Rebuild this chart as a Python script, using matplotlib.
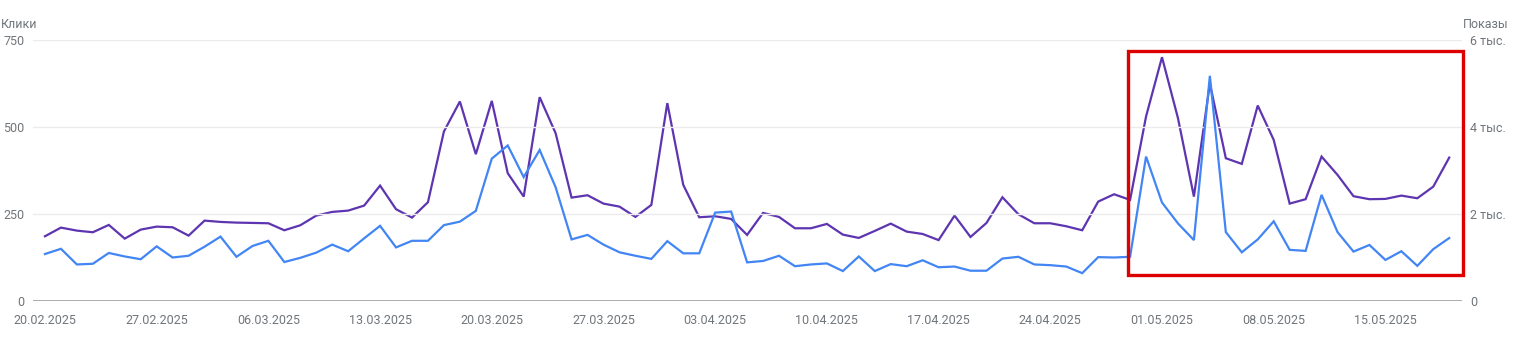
import matplotlib
matplotlib.use("Agg")
import matplotlib.pyplot as plt
import matplotlib.patches as mpatches
import pandas as pd

# ---- data ----
start_date = "2025-02-20"
clicks = [135, 150, 105, 107, 138, 128, 120, 157, 125, 130,
          156, 185, 127, 158, 173, 112, 124, 139, 162, 143,
          180, 216, 154, 173, 173, 218, 228, 259, 409, 447,
          356, 434, 327, 177, 190, 162, 140, 130, 121, 172,
          137, 137, 254, 257, 111, 115, 130, 100, 105, 108,
          86, 128, 86, 106, 100, 117, 97, 99, 87, 87,
          122, 127, 105, 103, 99, 80, 126, 125, 127, 415,
          283, 223, 175, 647, 198, 140, 177, 229, 147, 144,
          305, 198, 142, 161, 118, 143, 101, 149, 181]
impressions = [1488, 1687, 1618, 1580, 1749, 1434, 1641, 1710, 1695, 1503,
               1848, 1818, 1802, 1795, 1787, 1626, 1741, 1963, 2048, 2078,
               2193, 2653, 2110, 1917, 2271, 3896, 4586, 3375, 4600, 2938,
               2400, 4686, 3858, 2377, 2431, 2239, 2170, 1933, 2209, 4549,
               2669, 1925, 1949, 1887, 1519, 2025, 1933, 1672, 1672, 1772,
               1526, 1450, 1611, 1779, 1595, 1541, 1400, 1963, 1472, 1794,
               2385, 1994, 1787, 1787, 1718, 1626, 2285, 2454, 2324, 4241,
               5605, 4204, 2400, 5000, 3282, 3152, 4494, 3704, 2239, 2340,
               3320, 2899, 2409, 2340, 2347, 2423, 2362, 2629, 3297]
left_ticks = [0, 250, 500, 750]
right_ticks = [0, 2000, 4000, 6000]
right_tick_labels = ["0", "2 тыс.", "4 тыс.", "6 тыс."]
left_title = "Клики"
right_title = "Показы"

dates = pd.date_range(start_date, periods=len(clicks), freq="D")
x = list(range(len(clicks)))
xtick_pos = x[::7]
xtick_labels = [dates[i].strftime("%d.%m.%Y") for i in xtick_pos]

# ---- style ----
plt.rcParams['font.family'] = ['Roboto', 'DejaVu Sans']
TXT = "#70757a"
BLUE = "#4285F4"
PURPLE = "#5E35B1"

fig = plt.figure(figsize=(15.17, 3.52), dpi=100)
ax = fig.add_axes([33/1517, 1 - 301/352, (1462 - 33)/1517, (301 - 40)/352])
ax2 = ax.twinx()

ax2.plot(x, impressions, color=PURPLE, lw=1.6, solid_joinstyle='miter')
ax.plot(x, clicks, color=BLUE, lw=1.6, solid_joinstyle='miter')

ax.set_zorder(ax2.get_zorder() + 1)
ax.patch.set_visible(False)

ax.set_xlim(-0.75, 88.8)
ax.set_ylim(0, 750)
ax2.set_ylim(0, 6000)

ax.set_yticks(left_ticks)
ax.set_yticklabels([str(v) for v in left_ticks])
ax2.set_yticks(right_ticks)
ax2.set_yticklabels(right_tick_labels)
ax.set_xticks(xtick_pos)
ax.set_xticklabels(xtick_labels)

for a in (ax, ax2):
    for s in a.spines.values():
        s.set_visible(False)
    a.tick_params(length=0, labelsize=9, colors=TXT)
ax.tick_params(axis='y', pad=6)
ax2.tick_params(axis='y', pad=6)
ax.tick_params(axis='x', pad=9)

ax.grid(axis='y', color="#ebebeb", lw=1)
ax.set_axisbelow(True)
ax.axhline(0, color="#9e9e9e", lw=1.2, zorder=1)

fig.text(1/1517, 1 - 24/352, left_title, ha='left', va='center', fontsize=9, color=TXT)
fig.text(1509/1517, 1 - 24/352, right_title, ha='right', va='center', fontsize=9, color=TXT)

# highlight rectangle
rect = mpatches.Rectangle((67.86, 75), 88.85 - 67.86, 717 - 75, fill=False,
                          edgecolor="#dd0000", lw=2.4, clip_on=False, zorder=10)
ax.add_patch(rect)

fig.savefig("out.png", dpi=100)
